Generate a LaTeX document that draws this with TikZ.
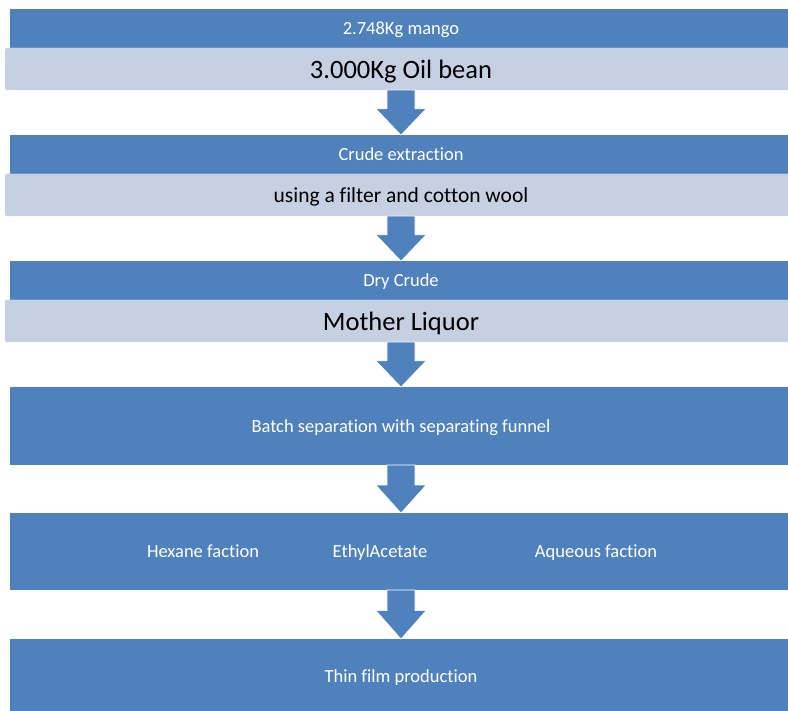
\documentclass[tikz,border=0pt]{standalone}
\usepackage{fontspec}
\setmainfont[Ligatures=NoCommon]{Carlito}
\usepackage{tikz}
\usetikzlibrary{positioning, calc}

\definecolor{azul}{RGB}{79,129,189}
\definecolor{celeste}{RGB}{197,208,227}

% flecha de bloque entre dos cajas
\newcommand{\bajar}[2]{%
  \fill[flecha]
    ($(#1.south)+(-14,0)$) -- ($(#1.south)!0.42!(#2.north)+(-14,0)$) -- ++(-11,0)
    -- (#2.north) -- ($(#1.south)!0.42!(#2.north)+(25,0)$) -- ++(-11,0)
    -- ($(#1.south)+(14,0)$) -- cycle;}

\begin{document}
\begin{tikzpicture}[
    x=1pt, y=-1pt,
    font=\fontsize{18.5}{22}\selectfont,
    every node/.style={text depth=0pt},
    caja/.style={fill=azul, text=white, minimum width=782pt, inner sep=0pt, outer sep=0pt},
    tira/.style={fill=celeste, draw=celeste!80!white, rounded corners=2pt, outer sep=0pt,
                 text=black, minimum width=792pt, minimum height=42pt, inner sep=0pt},
    etiqueta/.style={text=white, anchor=base},
    flecha/.style={fill=azul, draw=white, line width=0.6pt},
    grande/.style={font=\fontsize{26.5}{30}\selectfont},
    mediana/.style={font=\fontsize{21.5}{25}\selectfont}
  ]
  \clip (0,0) rectangle (788,711);

  % --- Materia prima ---
  \node[caja, anchor=north, minimum height=39pt] (mango) at (401,9) {2.748Kg mango};
  \node[tira, grande, below=0pt of mango] (oilbean) {3.000Kg Oil bean};

  % --- Extraccion ---
  \node[caja, minimum height=39pt, below=45pt of oilbean] (crude) {Crude extraction};
  \node[tira, mediana, below=0pt of crude] (filtro) {using a filter and cotton wool};

  % --- Secado ---
  \node[caja, minimum height=39pt, below=45pt of filtro] (dry) {Dry Crude};
  \node[tira, grande, below=0pt of dry] (liquor) {Mother Liquor};

  % --- Separacion y fracciones ---
  \node[caja, minimum height=78pt, below=45pt of liquor] (batch)
    {Batch separation with separating funnel};
  \node[caja, minimum height=77pt, below=48pt of batch] (fracciones) {};
  \node[etiqueta] (hexane) at (203,558) {Hexane faction};
  \node[etiqueta] (ethyl) at (380,558) {EthylAcetate};
  \node[etiqueta] (aqueous) at (596,558) {Aqueous faction};

  % --- Producto final ---
  \node[caja, minimum height=75pt, below=49pt of fracciones] (film) {Thin film production};

  \bajar{oilbean}{crude}
  \bajar{filtro}{dry}
  \bajar{liquor}{batch}
  \bajar{batch}{fracciones}
  \bajar{fracciones}{film}
\end{tikzpicture}
\end{document}
